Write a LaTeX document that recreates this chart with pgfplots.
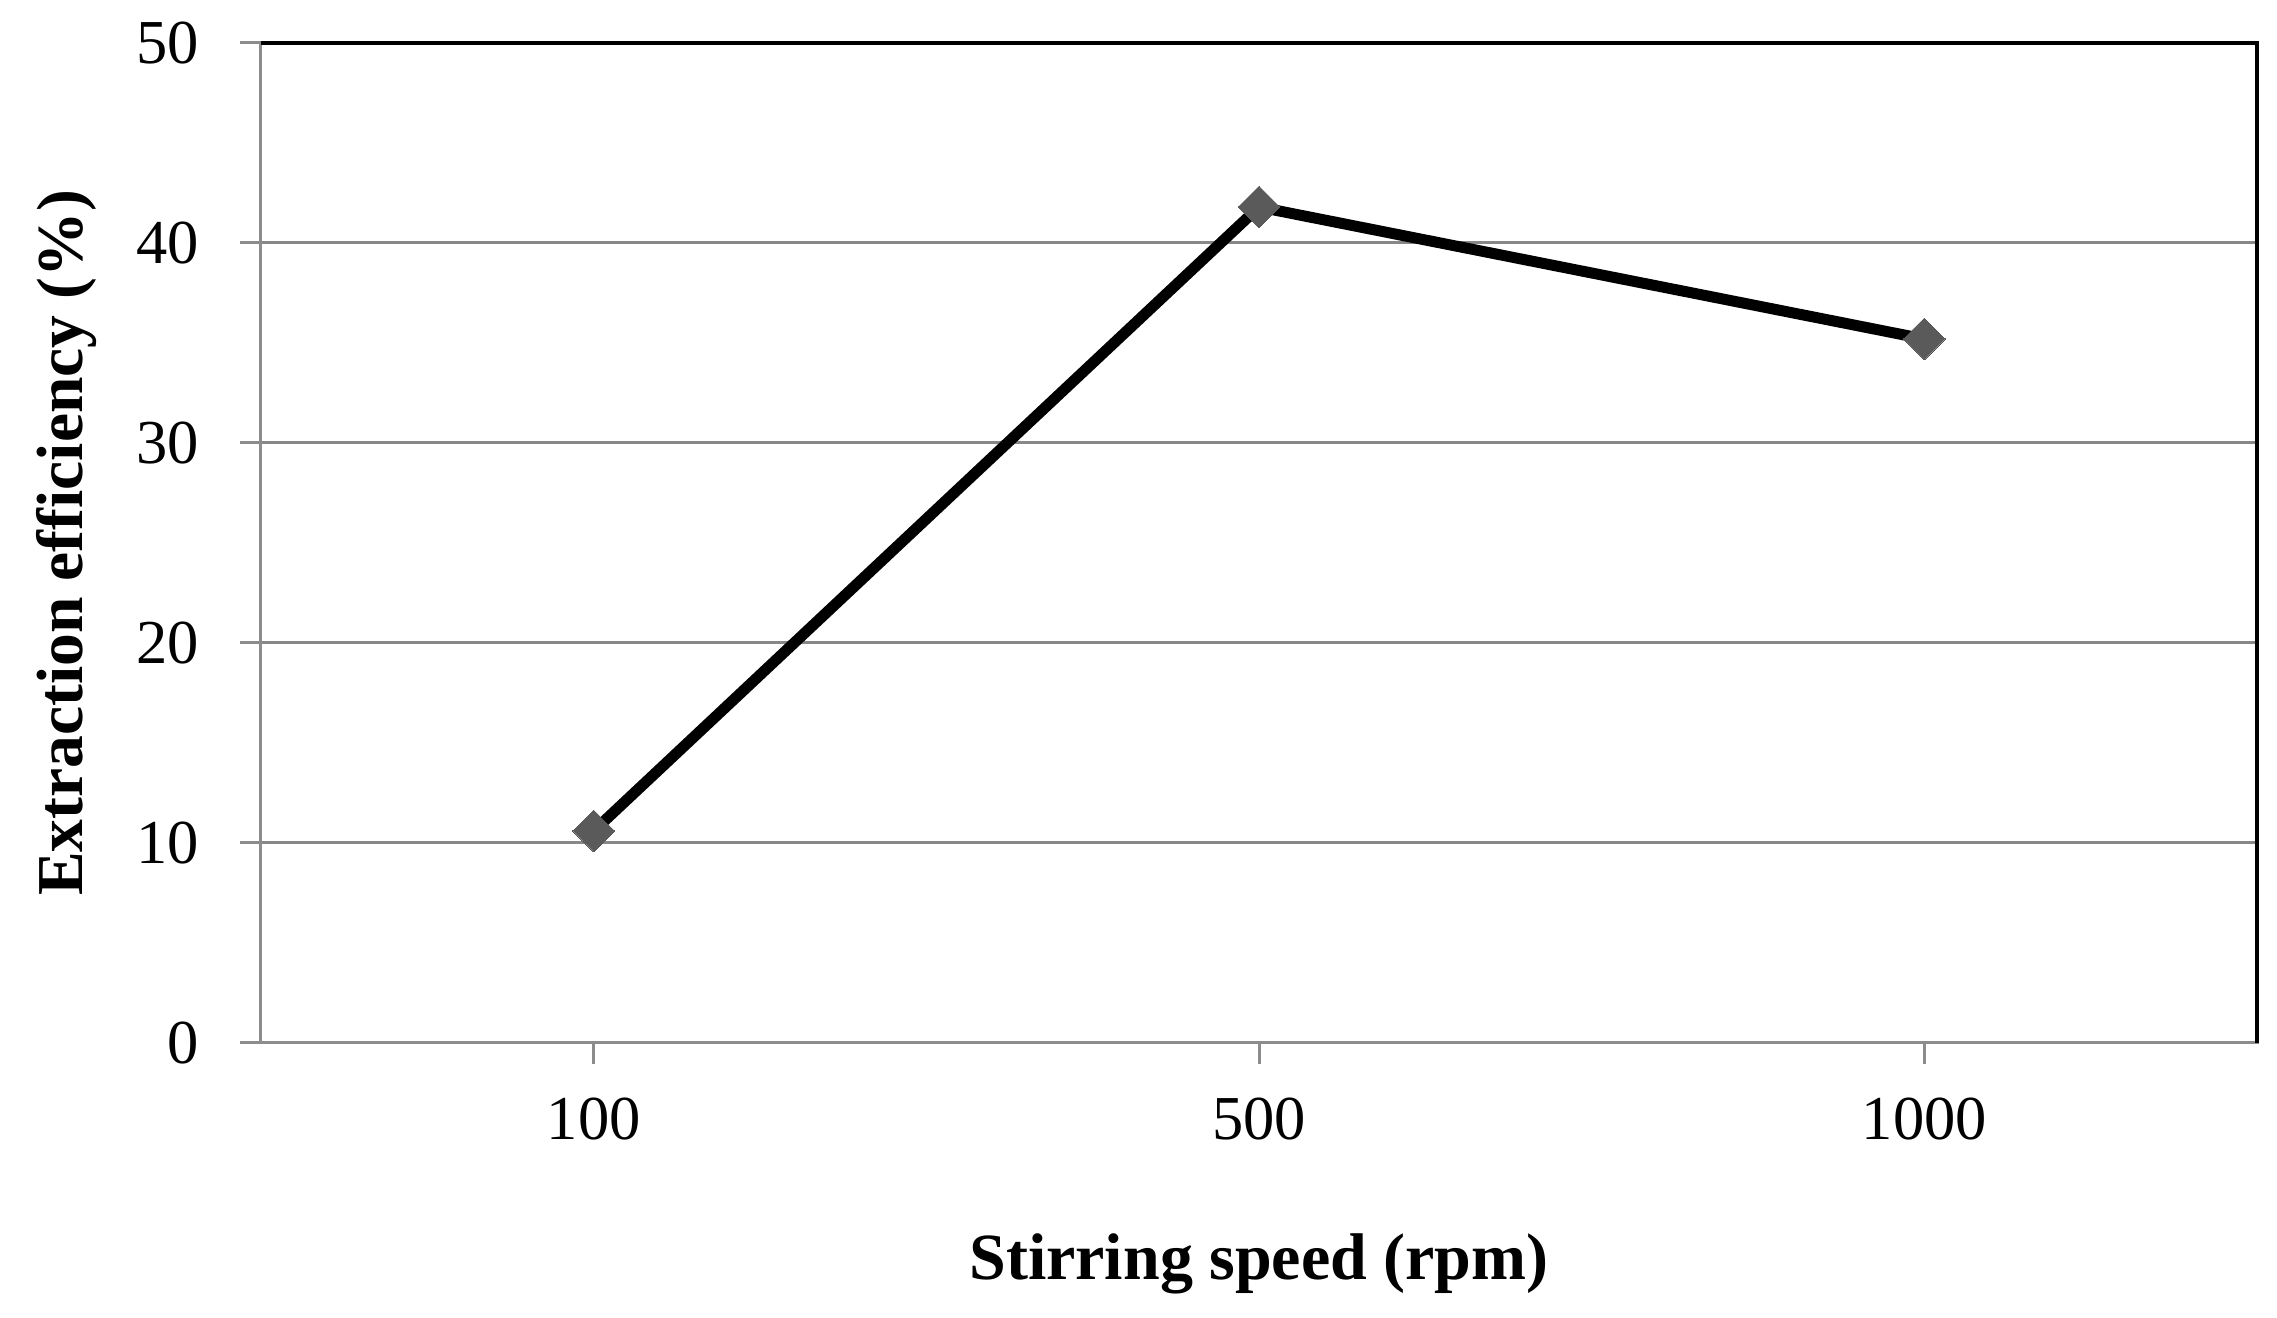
\documentclass[border=0pt]{standalone}
\usepackage{pgfplots}
\pgfplotsset{compat=1.18}
\usepackage{fontspec}
\setmainfont{Liberation Serif}
\definecolor{gridgray}{HTML}{888888}
\definecolor{axisgray}{HTML}{8C8C8C}
\definecolor{markgray}{HTML}{5A5A5A}
\begin{document}
\begin{tikzpicture}
\begin{axis}[
  name=ax,
  scale only axis,
  width=399.2pt, height=200pt,
  xmin=-0.5, xmax=2.5, ymin=0, ymax=50,
  xtick={0,1,2}, xticklabels={100,500,1000},
  ytick={0,10,20,30,40,50},
  xtick pos=bottom, ytick pos=left,
  tick align=outside,
  major tick length=4.2pt,
  tick style={axisgray, line width=0.6pt},
  ymajorgrids,
  grid style={gridgray, line width=0.6pt},
  axis line style={axisgray, line width=0.6pt},
  /pgf/number format/assume math mode=true,
  tick label style={font=\fontsize{12.5}{14}\selectfont, text=black},
  yticklabel style={anchor=east, inner sep=0pt, xshift=-8pt},
  xticklabel style={anchor=north, inner sep=0pt, yshift=-6.5pt},
  xlabel={Stirring speed (rpm)},
  ylabel={Extraction efficiency (\%)},
  xlabel style={font=\bfseries\fontsize{13.2}{16}\selectfont, at={(axis description cs:0.5,-0.237)}, anchor=base, inner sep=0pt},
  ylabel style={font=\bfseries\fontsize{13.1}{16}\selectfont, at={(axis description cs:-0.0892,0.5)}, anchor=base, rotate=0, inner sep=0pt},
  clip=false,
]
\addplot[black, line width=2.2pt, mark=square*, mark size=2.95pt,
  mark options={rotate=45, fill=markgray, draw=markgray, line width=0pt, solid}]
  coordinates {(0,10.6) (1,41.8) (2,35.2)};
\end{axis}
\draw[black, line width=0.8pt] (ax.north west) -- (ax.north east) -- (ax.south east);
\pgfresetboundingbox
\path[use as bounding box] ([xshift=-52.2pt,yshift=-55pt]ax.south west) rectangle ([xshift=4pt,yshift=8.6pt]ax.north east);
\end{tikzpicture}
\end{document}
